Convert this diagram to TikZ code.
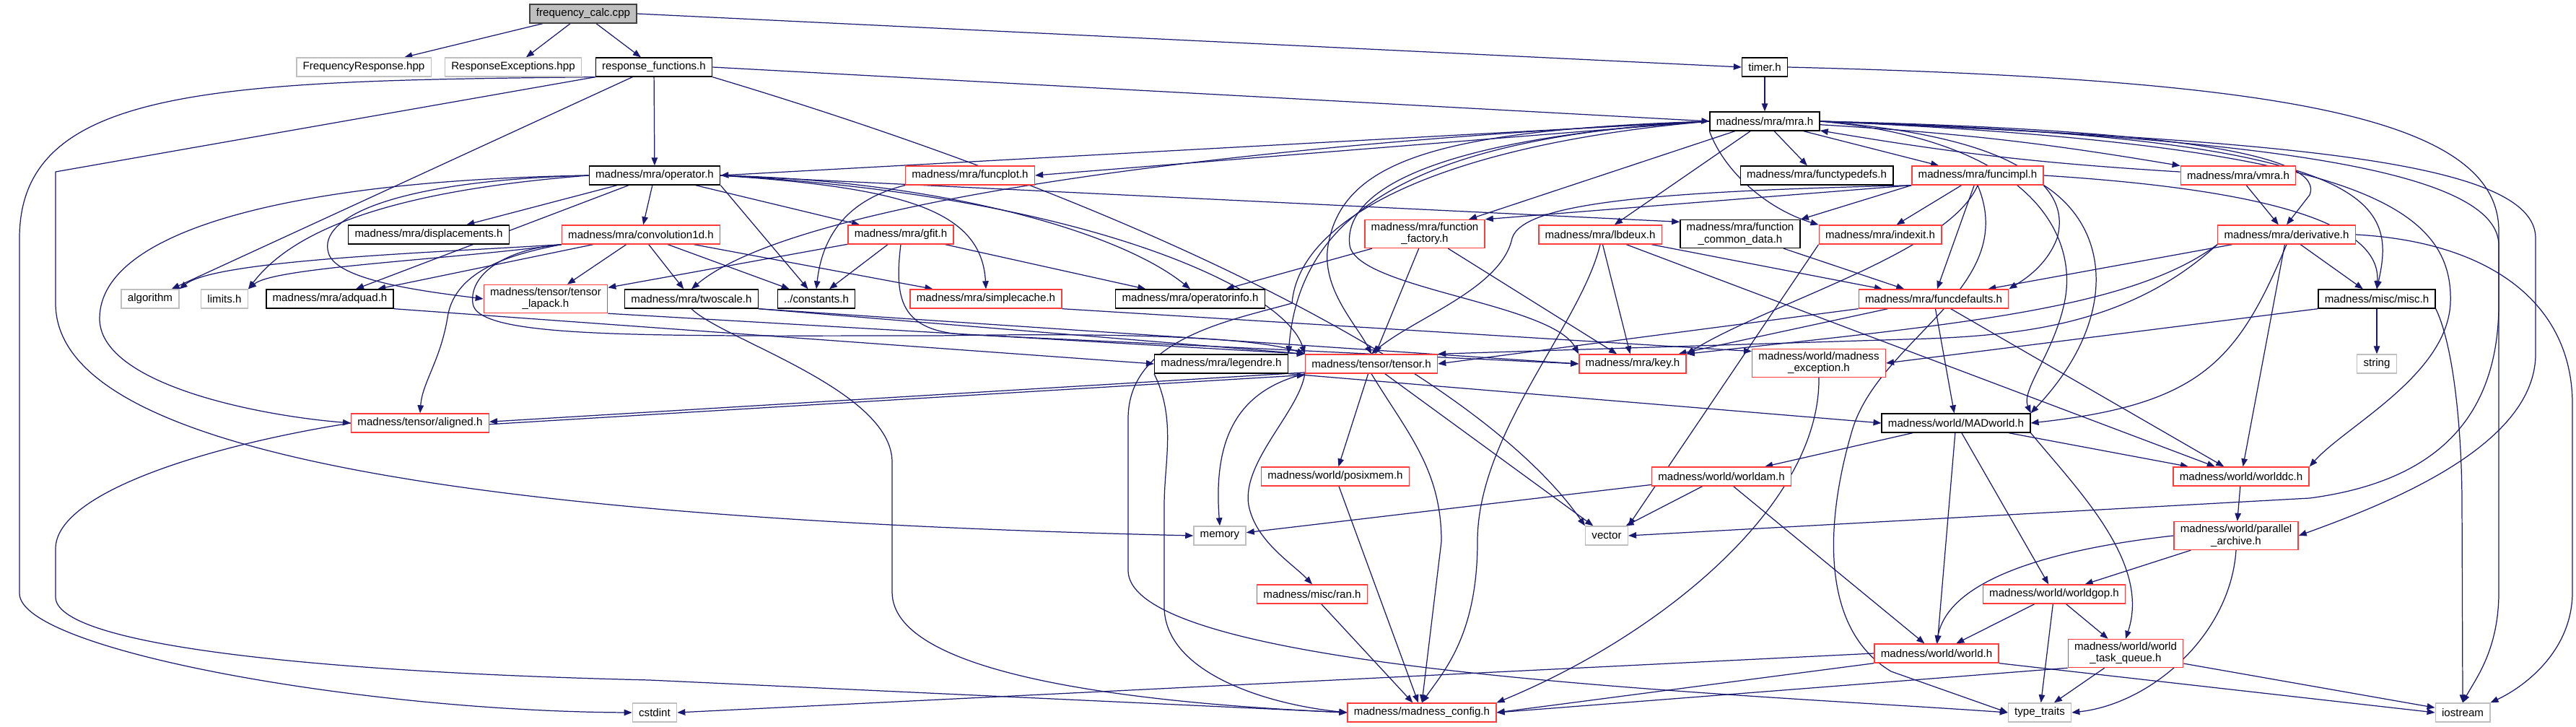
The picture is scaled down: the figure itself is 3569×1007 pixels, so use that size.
\documentclass[tikz,border=0pt]{standalone}
\usepackage{fontspec}
\setmainfont{Liberation Sans}
\usetikzlibrary{arrows.meta}
\pgfdeclarelayer{edges}
\pgfsetlayers{edges,main}
\definecolor{edgeblue}{RGB}{25,25,112}
\definecolor{truncred}{RGB}{255,60,60}
\definecolor{extgray}{RGB}{191,191,191}

\begin{document}
\begin{tikzpicture}[x=0.02cm,y=-0.02cm]
\tikzset{
  filenode/.style={rectangle,draw=black,line width=0.8pt,fill=white,font=\fontsize{8.6}{9.2}\selectfont,align=center,inner xsep=5pt,inner ysep=2.5pt,minimum height=0.52cm},
  truncnode/.style={filenode,draw=truncred},
  extnode/.style={filenode,draw=extgray},
  rootnode/.style={filenode,fill=extgray,draw=black!75},
  incl/.style={draw=edgeblue,line width=0.7pt,line join=round,-{Triangle[length=2.2mm,width=1.7mm]}}
}
\useasboundingbox (0,0) rectangle (3569,1007);
\node[rootnode] (n_freq) at (808,19) {frequency\_calc.cpp};
\node[extnode] (n_freqresp) at (504,93) {FrequencyResponse.hpp};
\node[extnode] (n_respexc) at (711,93) {ResponseExceptions.hpp};
\node[filenode] (n_resp) at (906,93) {response\_functions.h};
\node[filenode] (n_timer) at (2445,93) {timer.h};
\node[filenode] (n_mra) at (2445,168) {madness/mra/mra.h};
\node[filenode] (n_operator) at (907,243) {madness/mra/operator.h};
\node[truncnode] (n_funcplot) at (1344,243) {madness/mra/funcplot.h};
\node[filenode] (n_functypedefs) at (2517,243) {madness/mra/functypedefs.h};
\node[truncnode] (n_funcimpl) at (2740,243) {madness/mra/funcimpl.h};
\node[truncnode] (n_vmra) at (3101,243) {madness/mra/vmra.h};
\node[filenode] (n_displacements) at (594,325) {madness/mra/displacements.h};
\node[truncnode] (n_conv1d) at (888,325) {madness/mra/convolution1d.h};
\node[truncnode] (n_gfit) at (1248,325) {madness/mra/gfit.h};
\node[truncnode] (n_funcfactory) at (1974,324) {madness/mra/function\\\_factory.h};
\node[truncnode] (n_lbdeux) at (2217,325) {madness/mra/lbdeux.h};
\node[filenode] (n_commondata) at (2411,324) {madness/mra/function\\\_common\_data.h};
\node[truncnode] (n_indexit) at (2605,325) {madness/mra/indexit.h};
\node[truncnode] (n_derivative) at (3168,325) {madness/mra/derivative.h};
\node[extnode] (n_algorithm) at (208,414) {algorithm};
\node[extnode] (n_limits) at (311,414) {limits.h};
\node[filenode] (n_adquad) at (457,414) {madness/mra/adquad.h};
\node[truncnode] (n_lapack) at (756,414) {madness/tensor/tensor\\\_lapack.h};
\node[filenode] (n_twoscale) at (958,414) {madness/mra/twoscale.h};
\node[filenode] (n_constants) at (1131,414) {../constants.h};
\node[truncnode] (n_simplecache) at (1366,414) {madness/mra/simplecache.h};
\node[filenode] (n_operatorinfo) at (1649,414) {madness/mra/operatorinfo.h};
\node[truncnode] (n_funcdefaults) at (2679,414) {madness/mra/funcdefaults.h};
\node[filenode] (n_misc) at (3293,414) {madness/misc/misc.h};
\node[filenode] (n_legendre) at (1692,504) {madness/mra/legendre.h};
\node[truncnode] (n_tensor) at (1900,504) {madness/tensor/tensor.h};
\node[truncnode] (n_key) at (2262,504) {madness/mra/key.h};
\node[truncnode] (n_exception) at (2520,503) {madness/world/madness\\\_exception.h};
\node[extnode] (n_string) at (3293,504) {string};
\node[truncnode] (n_aligned) at (582,586) {madness/tensor/aligned.h};
\node[filenode] (n_madworld) at (2710,586) {madness/world/MADworld.h};
\node[truncnode] (n_posixmem) at (1850,660) {madness/world/posixmem.h};
\node[truncnode] (n_worldam) at (2385,660) {madness/world/worldam.h};
\node[truncnode] (n_worlddc) at (3105,660) {madness/world/worlddc.h};
\node[extnode] (n_memory) at (1690,742) {memory};
\node[extnode] (n_vector) at (2226,742) {vector};
\node[truncnode] (n_archive) at (3098,742) {madness/world/parallel\\\_archive.h};
\node[truncnode] (n_ran) at (1818,823) {madness/misc/ran.h};
\node[truncnode] (n_worldgop) at (2846,823) {madness/world/worldgop.h};
\node[truncnode] (n_world) at (2683,905) {madness/world/world.h};
\node[truncnode] (n_taskqueue) at (2945,905) {madness/world/world\\\_task\_queue.h};
\node[extnode] (n_cstdint) at (907,987) {cstdint};
\node[truncnode] (n_config) at (1970,987) {madness/madness\_config.h};
\node[extnode] (n_typetraits) at (2826,987) {type\_traits};
\node[extnode] (n_iostream) at (3412,987) {iostream};
\begin{pgfonlayer}{edges}
\draw[incl] (n_freq) -- (n_freqresp);
\draw[incl] (n_freq) -- (n_respexc);
\draw[incl] (n_freq) -- (n_resp);
\draw[incl] (n_freq.east) -- (n_timer.west);
\draw[incl] (n_resp) -- (n_operator);
\draw[incl] (n_resp.east) -- (n_mra.west);
\draw[incl] (n_resp) -- (n_algorithm);
\draw[incl] (n_resp.south west) .. controls (300,112) and (27,120) .. (27,330) -- (27,822) .. controls (27,900) and (500,985) .. (n_cstdint.west);
\draw[incl] (n_resp.south west) -- (77,238) -- (77,420) .. controls (77,600) and (500,715) .. (n_memory.west);
\draw[incl] (n_resp.south east) .. controls (1600,290) and (2050,520) .. (n_vector.north west);
\draw[incl] (n_timer) -- (n_mra);
\draw[incl] (n_timer.east) .. controls (3150,110) and (3462,160) .. (3462,320) -- (3462,420) .. controls (3462,600) and (3350,670) .. (3200,690) -- (n_vector.east);
\draw[incl] (n_mra.west) -- (n_operator.east);
\draw[incl] (n_mra.west) -- (n_funcplot.east);
\draw[incl] (n_mra) -- (n_functypedefs);
\draw[incl] (n_mra) -- (n_funcimpl);
\draw[incl] (n_mra) to[bend left=3] (n_vmra);
\draw[incl] (n_vmra) to[bend left=3] (n_mra);
\draw[incl] (n_mra.east) .. controls (3050,180) and (3220,220) .. (3200,270) -- (n_derivative.north);
\draw[incl] (n_mra) -- (n_funcfactory);
\draw[incl] (n_mra) -- (n_lbdeux);
\draw[incl] (n_mra.south west) .. controls (2390,240) and (2450,290) .. (n_indexit.north west);
\draw[incl] (n_mra.west) .. controls (2000,190) and (1860,260) .. (1870,340) .. controls (1880,400) and (2150,420) .. (n_key.north west);
\draw[incl] (n_mra.east) .. controls (2800,190) and (2870,260) .. (2850,330) .. controls (2835,370) and (2800,390) .. (n_funcdefaults.north east);
\draw[incl] (n_mra.west) .. controls (2000,180) and (1860,220) .. (1840,340) .. controls (1830,400) and (1880,450) .. (n_tensor.north);
\draw[incl] (n_mra.west) .. controls (1950,190) and (1800,300) .. (n_legendre.north east);
\draw[incl] (n_mra.west) .. controls (1700,200) and (1100,280) .. (n_twoscale.north);
\draw[incl] (n_mra.east) .. controls (3300,190) and (3320,280) .. (n_misc.north);
\draw[incl] (n_mra.east) .. controls (3250,200) and (3400,280) .. (3395,420) .. controls (3390,520) and (3250,590) .. (n_worlddc.north east);
\draw[incl] (n_mra.east) .. controls (2820,195) and (2880,330) .. (2860,420) .. controls (2845,490) and (2800,540) .. (n_madworld.north east);
\draw[incl] (n_mra.east) .. controls (3150,195) and (3513,220) .. (3513,330) -- (3513,490) .. controls (3513,620) and (3300,700) .. (n_archive.east);
\draw[incl] (n_mra.east) .. controls (3100,190) and (3462,230) .. (3462,340) -- (3462,820) .. controls (3462,900) and (3430,940) .. (n_iostream.north);
\draw[incl] (n_mra.west) .. controls (2000,200) and (1800,300) .. (1790,420) .. controls (1700,445) and (1563,470) .. (1563,580) -- (1563,790) .. controls (1563,930) and (2400,960) .. (n_typetraits.west);
\draw[incl] (n_vmra) -- (n_derivative);
\draw[incl] (n_operator) -- (n_displacements);
\draw[incl] (n_operator) -- (n_conv1d);
\draw[incl] (n_operator) -- (n_gfit);
\draw[incl] (n_operator.west) .. controls (600,260) and (420,300) .. (n_limits.north east);
\draw[incl] (n_operator.west) .. controls (550,250) and (440,300) .. (455,350) .. controls (465,390) and (600,405) .. (n_lapack.west);
\draw[incl] (n_operator.west) .. controls (400,250) and (140,320) .. (138,440) .. controls (136,530) and (350,575) .. (n_aligned.west);
\draw[incl] (n_operator) -- (n_adquad);
\draw[incl] (n_operator.south east) -- (n_constants);
\draw[incl] (n_operator.east) .. controls (1250,260) and (1360,290) .. (n_simplecache.north);
\draw[incl] (n_operator.east) .. controls (1300,250) and (1550,320) .. (n_operatorinfo.north);
\draw[incl] (n_operator.east) -- ([yshift=-2pt]n_commondata.north west);
\draw[incl] (n_operator.east) .. controls (1500,270) and (1780,400) .. (n_tensor.north west);
\draw[incl] (n_conv1d.south west) .. controls (600,350) and (300,360) .. (n_algorithm.north east);
\draw[incl] (n_conv1d.south west) .. controls (620,360) and (380,370) .. (n_limits.north east);
\draw[incl] (n_conv1d) -- (n_adquad);
\draw[incl] (n_conv1d) -- (n_lapack);
\draw[incl] (n_conv1d) -- (n_twoscale);
\draw[incl] (n_conv1d) -- (n_constants);
\draw[incl] (n_conv1d) -- (n_simplecache);
\draw[incl] (n_conv1d.south west) .. controls (720,350) and (630,370) .. (620,440) .. controls (610,500) and (585,530) .. (n_aligned.north);
\draw[incl] (n_conv1d.south west) .. controls (700,345) and (650,380) .. (655,420) .. controls (660,470) and (900,465) .. (1300,465) .. controls (1600,460) and (1750,470) .. (n_tensor.north west);
\draw[incl] (n_gfit) -- (n_lapack);
\draw[incl] (n_gfit) -- (n_constants);
\draw[incl] (n_gfit) -- (n_operatorinfo);
\draw[incl] (n_gfit.south) .. controls (1238,420) and (1250,462) .. (1350,464) -- (n_key.west);
\draw[incl] (n_funcplot.south west) .. controls (1180,275) and (1140,320) .. (n_constants.north);
\draw[incl] (n_funcfactory) -- (n_operatorinfo);
\draw[incl] (n_funcfactory) -- (n_tensor);
\draw[incl] (n_funcfactory) -- (n_key);
\draw[incl] (n_lbdeux) -- (n_key);
\draw[incl] (n_lbdeux) -- (n_funcdefaults);
\draw[incl] (n_lbdeux) -- (n_worlddc);
\draw[incl] (n_lbdeux.south) .. controls (2190,450) and (2047,600) .. (2047,750) .. controls (2047,880) and (2000,930) .. (n_config.north);
\draw[incl] (n_commondata) -- (n_funcdefaults);
\draw[incl] (n_indexit.south west) -- (n_vector.north east);
\draw[incl] (n_funcimpl.south west) -- (n_funcfactory.north east);
\draw[incl] (n_funcimpl.south west) -- (n_commondata.north east);
\draw[incl] (n_funcimpl) -- (n_indexit);
\draw[incl] (n_funcimpl) -- (n_funcdefaults);
\draw[incl] (n_funcimpl.south west) .. controls (2300,265) and (2110,280) .. (2095,330) .. controls (2080,400) and (1960,440) .. (n_tensor.north);
\draw[incl] (n_funcimpl.south) .. controls (2700,350) and (2450,420) .. (n_key.north east);
\draw[incl] (n_funcimpl.south east) .. controls (2930,320) and (2930,450) .. (n_madworld.north east);
\draw[incl] (n_funcimpl.south) .. controls (2800,400) and (2600,470) .. (2565,600) .. controls (2530,720) and (2520,870) .. (2620,930) -- (n_typetraits.west);
\draw[incl] (n_funcimpl.east) .. controls (3100,260) and (3300,300) .. (n_misc.north);
\draw[incl] (n_derivative) -- (n_funcdefaults);
\draw[incl] (n_derivative.south west) .. controls (2950,430) and (2700,450) .. (n_key.north east);
\draw[incl] (n_derivative.south west) .. controls (2950,450) and (2800,466) .. (2640,470) -- (n_tensor.north east);
\draw[incl] (n_derivative.south) .. controls (3100,500) and (3050,560) .. (n_madworld.east);
\draw[incl] (n_derivative) -- (n_worlddc);
\draw[incl] (n_derivative) -- (n_misc);
\draw[incl] (n_derivative.east) .. controls (3450,335) and (3564,420) .. (3564,560) -- (3564,820) .. controls (3564,900) and (3500,950) .. (n_iostream.north east);
\draw[incl] (n_funcdefaults) -- (n_madworld);
\draw[incl] (n_funcdefaults) -- (n_worlddc);
\draw[incl] (n_funcdefaults.south west) -- (n_tensor.east);
\draw[incl] (n_funcdefaults) -- (n_key);
\draw[incl] (n_misc) -- (n_string);
\draw[incl] (n_misc.south west) -- (n_exception.east);
\draw[incl] (n_misc.south east) .. controls (3400,480) and (3411,600) .. (3411,700) -- (n_iostream.north);
\draw[incl] (n_twoscale.south east) -- (n_tensor.north west);
\draw[incl] (n_twoscale.south east) -- (n_key.west);
\draw[incl] (n_twoscale.south) .. controls (1000,470) and (1236,540) .. (1236,640) -- (1236,820) .. controls (1236,940) and (1600,975) .. (n_config.west);
\draw[incl] (n_adquad.south east) -- (n_legendre.west);
\draw[incl] (n_lapack.south east) -- (n_tensor.north west);
\draw[incl] (n_simplecache.south east) -- (n_exception.170);
\draw[incl] (n_legendre.south east) -- (n_madworld.west);
\draw[incl] (n_legendre.south west) .. controls (1630,580) and (1613,640) .. (1613,700) -- (1613,840) .. controls (1613,930) and (1750,975) .. (n_config.west);
\draw[incl] ([yshift=1pt]n_tensor.south west) -- ([yshift=1pt]n_aligned.east);
\draw[incl] ([yshift=-1pt]n_aligned.east) -- ([yshift=-1pt]n_tensor.south west);
\draw[incl] (n_tensor) -- (n_posixmem);
\draw[incl] (n_tensor.south west) .. controls (1800,570) and (1720,640) .. (1730,700) .. controls (1740,750) and (1790,780) .. (n_ran.north);
\draw[incl] (n_tensor.south west) .. controls (1720,540) and (1680,600) .. (n_memory.north);
\draw[incl] (n_tensor) -- (n_vector);
\draw[incl] (n_tensor.south) .. controls (1950,600) and (1997,650) .. (1997,750) -- (n_config.north);
\draw[incl] (n_aligned.west) .. controls (300,615) and (77,680) .. (77,760) -- (77,827) .. controls (77,890) and (400,930) .. (900,942) -- (n_config.west);
\draw[incl] (n_posixmem) -- (n_config);
\draw[incl] (n_ran) -- (n_config);
\draw[incl] (n_exception.south) .. controls (2522,700) and (2300,880) .. (n_config.north east);
\draw[incl] (n_madworld) -- (n_worldam);
\draw[incl] (n_madworld) -- (n_worlddc);
\draw[incl] (n_madworld) -- (n_world);
\draw[incl] (n_madworld) -- (n_worldgop);
\draw[incl] (n_madworld.south east) .. controls (2880,680) and (2980,780) .. (n_taskqueue.north);
\draw[incl] (n_worldam) -- (n_memory);
\draw[incl] (n_worldam) -- (n_vector);
\draw[incl] (n_worldam) -- (n_world);
\draw[incl] (n_worlddc) -- (n_archive);
\draw[incl] (n_archive) -- (n_worldgop);
\draw[incl] (n_archive.west) .. controls (2850,760) and (2700,800) .. (n_world.north);
\draw[incl] (n_archive.south) .. controls (3090,880) and (2980,975) .. (n_typetraits.east);
\draw[incl] (n_worldgop) -- (n_world);
\draw[incl] (n_worldgop) -- (n_taskqueue);
\draw[incl] (n_worldgop) -- (n_typetraits);
\draw[incl] (n_taskqueue) -- (n_typetraits);
\draw[incl] (n_taskqueue.south west) -- (n_config.east);
\draw[incl] (n_taskqueue) -- (n_iostream);
\draw[incl] (n_world.south west) -- (n_config.east);
\draw[incl] (n_world.west) -- (n_cstdint.east);
\draw[incl] (n_world.south east) -- (n_iostream.west);
\end{pgfonlayer}
\end{tikzpicture}
\end{document}
